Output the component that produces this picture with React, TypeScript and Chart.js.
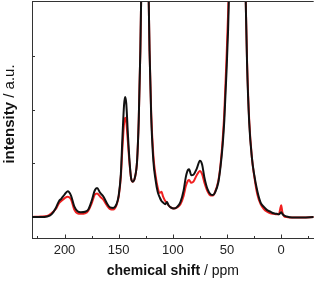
import React, { useEffect, useRef } from 'react';
import { Chart, registerables } from 'chart.js';

Chart.register(...registerables);

const shiftPpm = [
  230, 222, 216, 212, 208, 205, 203, 200, 197, 194, 191, 188, 185, 181, 178, 175, 172, 170, 167, 164,
  161, 158, 155, 152, 150, 148, 146.5, 145, 144, 143, 141.5, 140, 138.5, 137, 135, 133, 131.5, 130, 129, 128,
  126, 124, 122.5, 121.5, 120, 118, 116, 114, 112, 110.5, 109, 107, 105.5, 104, 102, 99, 96, 93, 90, 88,
  86, 85, 83, 81, 78, 75, 73, 71, 68, 65, 63, 61, 58, 56, 54, 52.5, 50.5, 49, 48, 45,
  40.5, 36, 33, 31.5, 29.5, 27, 25, 22, 19, 16, 13, 10, 7, 4, 2, 1, 0, -1, -2.5, -5,
  -10, -20, -30,
];

const blackIntensity = [
  0.0, 0.0, 0.01, 0.05, 0.17, 0.3, 0.34, 0.42, 0.48, 0.4, 0.2, 0.11, 0.09, 0.1, 0.14, 0.3, 0.5, 0.54, 0.45, 0.38,
  0.26, 0.18, 0.17, 0.24, 0.4, 0.8, 1.5, 2.1, 2.24, 2.12, 1.55, 1.05, 0.72, 0.66, 0.74, 1.05, 1.8, 3.1, 4.4, 6.5,
  8, 6.5, 4.3, 3.1, 1.88, 1.05, 0.7, 0.47, 0.36, 0.3, 0.27, 0.24, 0.28, 0.22, 0.18, 0.16, 0.19, 0.28, 0.5, 0.75,
  0.88, 0.89, 0.78, 0.79, 0.9, 1.05, 0.98, 0.75, 0.52, 0.42, 0.41, 0.46, 0.65, 0.94, 1.35, 1.8, 2.7, 3.5, 4.3, 7,
  9, 7, 4.3, 2.85, 1.75, 1.1, 0.8, 0.48, 0.27, 0.19, 0.13, 0.1, 0.07, 0.06, 0.05, 0.07, 0.09, 0.06, 0.03, 0.01,
  -0.01, -0.01, 0.0,
];

const redIntensity = [
  0.0, 0.01, 0.02, 0.07, 0.15, 0.26, 0.3, 0.35, 0.38, 0.33, 0.14, 0.07, 0.06, 0.07, 0.12, 0.25, 0.42, 0.44, 0.38, 0.32,
  0.22, 0.15, 0.14, 0.22, 0.38, 0.75, 1.3, 1.75, 1.85, 1.78, 1.4, 1.0, 0.72, 0.66, 0.74, 1.05, 1.8, 3.1, 4.4, 6.5,
  8, 6.5, 4.3, 3.1, 1.95, 1.15, 0.78, 0.55, 0.45, 0.47, 0.38, 0.3, 0.27, 0.22, 0.18, 0.16, 0.18, 0.24, 0.4, 0.58,
  0.68, 0.69, 0.64, 0.66, 0.78, 0.86, 0.8, 0.65, 0.48, 0.4, 0.4, 0.47, 0.68, 0.98, 1.45, 1.95, 2.95, 3.8, 4.6, 7.2,
  9, 7, 4.3, 2.9, 1.8, 1.1, 0.78, 0.42, 0.24, 0.15, 0.1, 0.07, 0.06, 0.05, 0.06, 0.14, 0.22, 0.1, 0.02, 0.0,
  -0.01, -0.01, 0.0,
];

const xMajorTicks = [200, 150, 100, 50, 0];
const xMinorTicks = [225, 175, 125, 75, 25, -25];
const yTicks = [1, 2, 3];
const xTitleBold = 'chemical shift';
const xTitleRest = ' / ppm';
const yTitleBold = 'intensity';
const yTitleRest = ' / a.u.';

const FONT = "'Liberation Sans', Arial, sans-serif";
const AXIS_COLOR = '#333333';

function drawMixed(ctx: CanvasRenderingContext2D, bold: string, rest: string, size: number) {
  ctx.font = `bold ${size}px ${FONT}`;
  const wb = ctx.measureText(bold).width;
  ctx.font = `${size}px ${FONT}`;
  const wr = ctx.measureText(rest).width;
  const start = -(wb + wr) / 2;
  ctx.textAlign = 'left';
  ctx.textBaseline = 'middle';
  ctx.fillStyle = '#111111';
  ctx.font = `bold ${size}px ${FONT}`;
  ctx.fillText(bold, start, 0);
  ctx.font = `${size}px ${FONT}`;
  ctx.fillText(rest, start + wb, 0);
}

const decorPlugin = {
  id: 'decor',
  afterDraw(chart: any) {
    const { ctx, chartArea } = chart;
    const xs = chart.scales.x;
    const ys = chart.scales.y;
    ctx.save();
    ctx.strokeStyle = AXIS_COLOR;
    ctx.lineWidth = 1;
    // top frame line
    ctx.beginPath();
    ctx.moveTo(chartArea.left, chartArea.top + 0.5);
    ctx.lineTo(chartArea.right, chartArea.top + 0.5);
    ctx.stroke();
    // inward x ticks
    const b = chartArea.bottom;
    ctx.beginPath();
    xMajorTicks.forEach((v) => {
      const px = Math.round(xs.getPixelForValue(v)) + 0.5;
      ctx.moveTo(px, b);
      ctx.lineTo(px, b - 4);
    });
    xMinorTicks.forEach((v) => {
      const px = Math.round(xs.getPixelForValue(v)) + 0.5;
      ctx.moveTo(px, b);
      ctx.lineTo(px, b - 2.5);
    });
    // inward y ticks
    yTicks.forEach((v) => {
      const py = Math.round(ys.getPixelForValue(v)) + 0.5;
      ctx.moveTo(chartArea.left, py);
      ctx.lineTo(chartArea.left + 3, py);
    });
    ctx.stroke();
    // axis titles
    ctx.save();
    ctx.translate((chartArea.left + chartArea.right) / 2, 271.5);
    drawMixed(ctx, xTitleBold, xTitleRest, 14);
    ctx.restore();
    ctx.save();
    ctx.translate(9.5, 114);
    ctx.rotate(-Math.PI / 2);
    drawMixed(ctx, yTitleBold, yTitleRest, 15);
    ctx.restore();
    ctx.restore();
  },
};

export default function App() {
  const ref = useRef<HTMLCanvasElement | null>(null);
  useEffect(() => {
    if (!ref.current) return;
    const blackData = shiftPpm.map((x, i) => ({ x, y: blackIntensity[i] }));
    const redData = shiftPpm.map((x, i) => ({ x, y: redIntensity[i] }));
    const chart = new Chart(ref.current, {
      type: 'line',
      data: {
        datasets: [
          {
            label: 'black',
            data: blackData,
            borderColor: '#111111',
            borderWidth: 2,
            pointRadius: 0,
            cubicInterpolationMode: 'monotone',
            fill: false,
          },
          {
            label: 'red',
            data: redData,
            borderColor: '#f02020',
            borderWidth: 2,
            pointRadius: 0,
            cubicInterpolationMode: 'monotone',
            fill: false,
          },
        ],
      },
      options: {
        responsive: false,
        animation: false,
        events: [],
        layout: { padding: { top: 1, right: 2.3, left: 0, bottom: 0 } },
        plugins: { legend: { display: false }, tooltip: { enabled: false } },
        scales: {
          x: {
            type: 'linear',
            reverse: true,
            min: -30,
            max: 230,
            afterFit: (s: any) => {
              s.height = 43.5;
            },
            afterBuildTicks: (s: any) => {
              s.ticks = xMajorTicks.map((v) => ({ value: v }));
            },
            grid: { display: false, drawTicks: false },
            border: { display: true, color: AXIS_COLOR, width: 1 },
            ticks: {
              font: { family: FONT, size: 13 },
              color: '#222222',
              padding: 4,
              maxRotation: 0,
              autoSkip: false,
            },
          },
          y: {
            type: 'linear',
            min: -0.4,
            max: 4.03,
            afterFit: (s: any) => {
              s.width = 32;
            },
            afterBuildTicks: (s: any) => {
              s.ticks = yTicks.map((v) => ({ value: v }));
            },
            grid: { display: false, drawTicks: false },
            border: { display: true, color: AXIS_COLOR, width: 1 },
            ticks: { display: false },
          },
        },
      },
      plugins: [decorPlugin],
    });
    return () => chart.destroy();
  }, []);
  return (
    <div style={{ position: 'absolute', left: 0, top: 0, width: 316, height: 282, background: '#fff' }}>
      <canvas ref={ref} width={316} height={282} style={{ display: 'block' }} />
    </div>
  );
}
